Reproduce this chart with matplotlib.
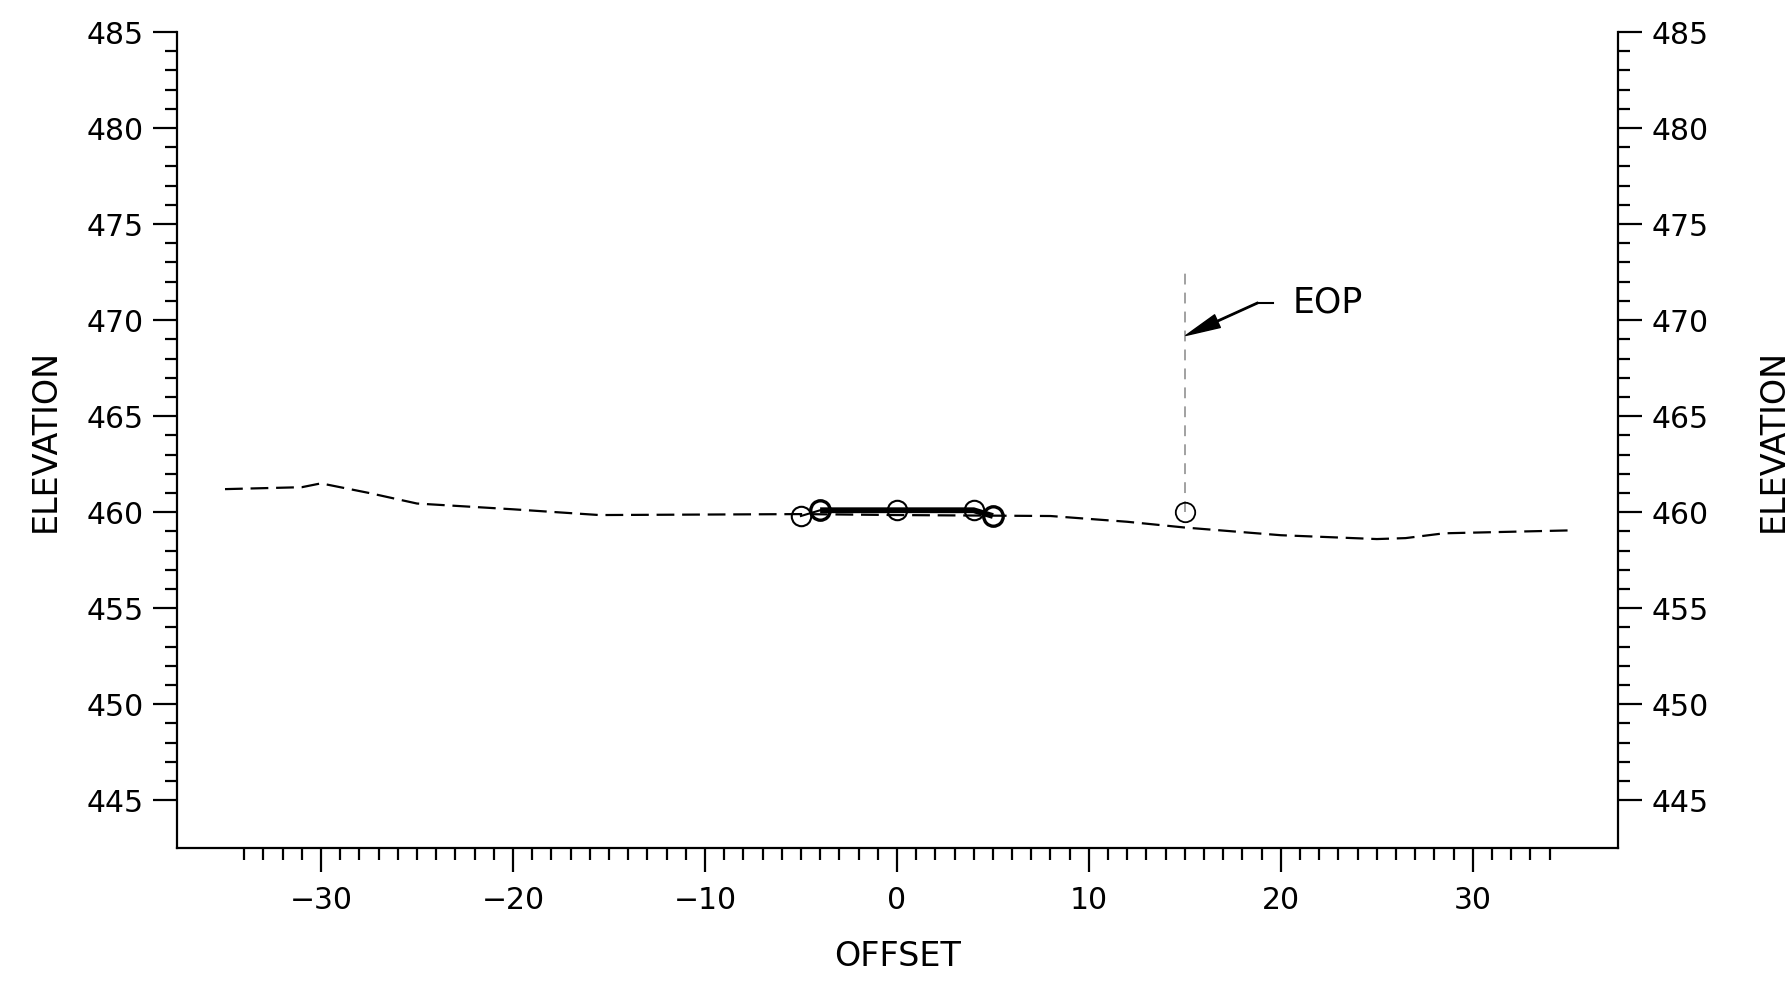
import numpy as np
import matplotlib
matplotlib.use("Agg")
import matplotlib.pyplot as plt
from matplotlib.ticker import FixedLocator

plt.rcParams['font.family'] = ['DejaVu Sans']

# existing ground profile (dashed)
ground_x = [-35, -31, -30, -27.5, -25, -20, -15.5, -5, 0, 8, 12, 15, 20, 25, 26.5, 28.5, 35]
ground_y = [461.2, 461.3, 461.5, 461.0, 460.45, 460.15, 459.85, 459.9, 459.85, 459.8,
            459.5, 459.2, 458.8, 458.6, 458.65, 458.9, 459.05]

# proposed section points
sec_x = [-5, -4, 0, 4, 5]
sec_y = [459.8, 460.1, 460.1, 460.1, 459.8]
bold_pts = [1, 4]  # circles drawn heavier

# EOP marker
eop_x = 15
eop_y = 460.0
eop_top = 472.7
eop_label = "EOP"

x_major = [-30, -20, -10, 0, 10, 20, 30]
x_minor = [v for v in range(-34, 35) if v % 10 != 0]
y_major = [445, 450, 455, 460, 465, 470, 475, 480, 485]
y_minor = [v for v in range(445, 486) if v % 5 != 0]

fig = plt.figure(figsize=(17.88, 9.85), dpi=100)
ax = fig.add_axes([0.0990, 0.1388, 0.8058, 0.8287])

# ground line
ax.plot(ground_x, ground_y, color='black', lw=1.6, dashes=(8, 3.5))

# section
ax.plot(sec_x[:2], sec_y[:2], color='black', lw=1.5)
ax.plot(sec_x[1:], sec_y[1:], color='black', lw=4.2, solid_capstyle='butt')
for i, (x, y) in enumerate(zip(sec_x, sec_y)):
    ew = 2.4 if i in bold_pts else 1.5
    ax.plot(x, y, 'o', ms=14, mfc='none', mec='black', mew=ew)

# EOP vertical + marker + leader
ax.plot([eop_x, eop_x], [eop_y, eop_top], color='#9a9a9a', lw=1.3, dashes=(6, 4.5))
ax.plot(eop_x, eop_y, 'o', ms=14, mfc='none', mec='black', mew=1.3)
ax.annotate('', xy=(eop_x + 0.05, 469.2), xytext=(18.8, 470.9),
            arrowprops=dict(facecolor='black', edgecolor='black', width=1.0,
                            headwidth=10, headlength=25, shrink=0))
ax.plot([18.8, 19.6], [470.9, 470.9], color='black', lw=1.5)
ax.text(20.6, 470.9, eop_label, fontsize=25, ha='left', va='center')

ax.set_xlim(-37.5, 37.55)
ax.set_ylim(442.5, 485)

ax.spines['top'].set_visible(False)
for s in ['left', 'right', 'bottom']:
    ax.spines[s].set_linewidth(1.6)

ax.xaxis.set_major_locator(FixedLocator(x_major))
ax.xaxis.set_minor_locator(FixedLocator(x_minor))
ax.yaxis.set_major_locator(FixedLocator(y_major))
ax.yaxis.set_minor_locator(FixedLocator(y_minor))

ax.tick_params(which='both', direction='out', width=1.6, labelsize=21.5,
               left=True, right=True, labelleft=True, labelright=True)
ax.tick_params(which='major', length=17, pad=7)
ax.tick_params(axis='x', which='major', pad=10)
ax.tick_params(which='minor', length=8.5)

ax.set_xlabel('OFFSET', fontsize=24, labelpad=18)
ax.set_ylabel('ELEVATION', fontsize=24, labelpad=18)
fig.text(1773 / 1788, 0.5 * (0.1388 + 0.9675), 'ELEVATION', fontsize=24,
         rotation=90, ha='center', va='center')

fig.savefig('out.png', dpi=100)
